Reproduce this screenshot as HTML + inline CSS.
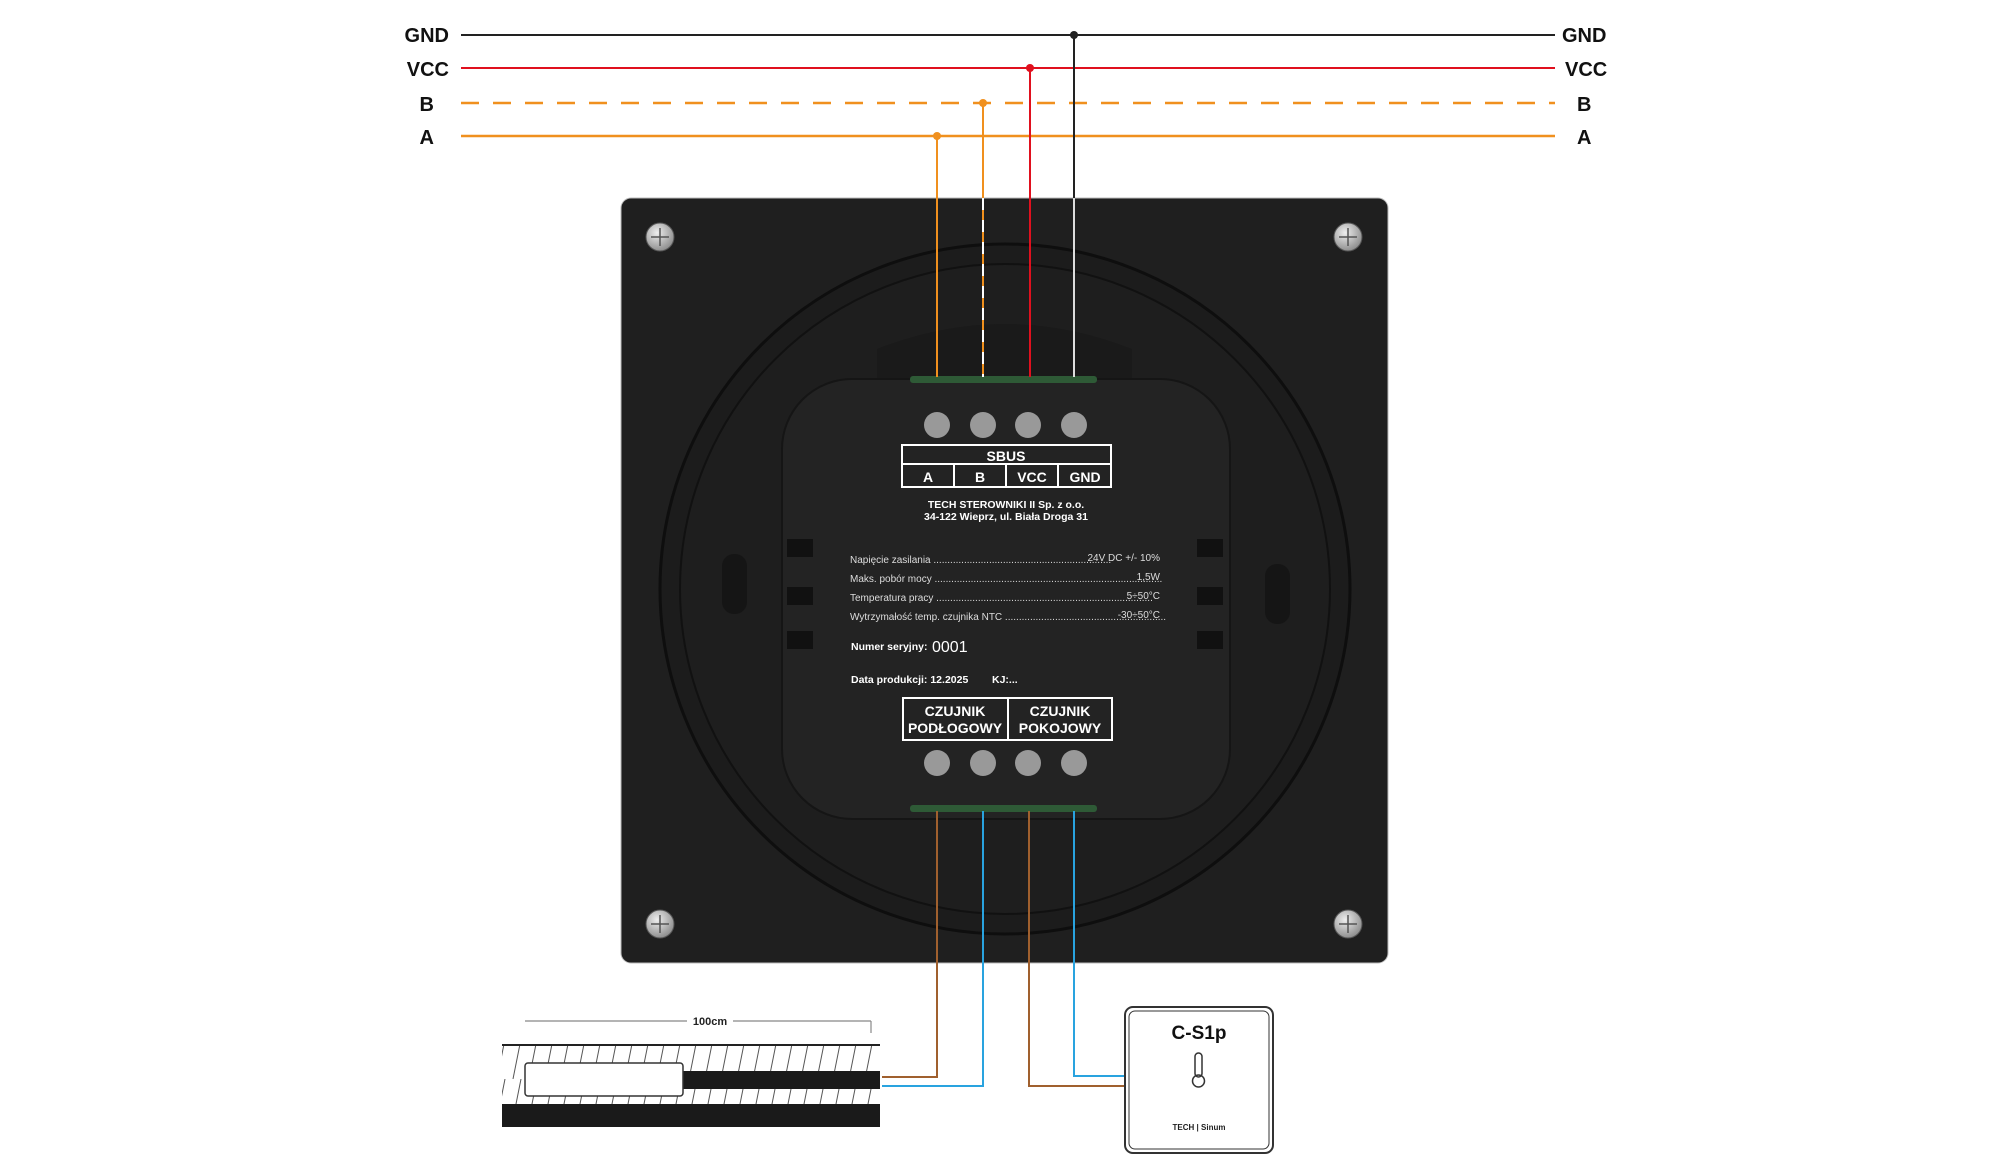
<!DOCTYPE html>
<html><head><meta charset="utf-8"><style>
html,body{margin:0;padding:0;background:#fff;}
svg{display:block;font-family:"Liberation Sans",sans-serif;}
</style></head><body>
<svg width="2000" height="1160" viewBox="0 0 2000 1160" xmlns="http://www.w3.org/2000/svg">
<defs>
<pattern id="hat" width="16" height="40" patternUnits="userSpaceOnUse">
<line x1="12" y1="0" x2="4" y2="40" stroke="#555" stroke-width="1"/>
</pattern>
<radialGradient id="scr" cx="40%" cy="35%" r="70%"><stop offset="0" stop-color="#eee"/><stop offset="1" stop-color="#888"/></radialGradient>
</defs>
<g transform="translate(-3,-1)">
<g font-weight="bold" font-size="20" fill="#111">
<text x="452" y="43" text-anchor="end">GND</text>
<text x="452" y="77" text-anchor="end">VCC</text>
<text x="437" y="112" text-anchor="end">B</text>
<text x="437" y="145" text-anchor="end">A</text>
<text x="1565" y="43">GND</text>
<text x="1568" y="77">VCC</text>
<text x="1580" y="112">B</text>
<text x="1580" y="145">A</text>
</g>
<line x1="464" y1="36" x2="1558" y2="36" stroke="#222" stroke-width="2"/>
<line x1="464" y1="69" x2="1558" y2="69" stroke="#e0101e" stroke-width="2"/>
<line x1="464" y1="104" x2="1558" y2="104" stroke="#f0901e" stroke-width="2.5" stroke-dasharray="18,14"/>
<line x1="464" y1="137" x2="1558" y2="137" stroke="#f0901e" stroke-width="2.5"/>
<rect x="624" y="199" width="767" height="765" rx="10" fill="#1f1f1f" stroke="#bbb" stroke-width="1"/>
<circle cx="1008" cy="590" r="345" fill="#1c1c1c" stroke="#0e0e0e" stroke-width="3"/>
<circle cx="1008" cy="590" r="325" fill="#1e1e1e" stroke="#111" stroke-width="2"/>
<rect x="725" y="555" width="25" height="60" rx="12" fill="#151515"/>
<rect x="1268" y="565" width="25" height="60" rx="12" fill="#151515"/>
<path d="M880 350 Q1008 300 1135 350 L1135 380 L880 380 Z" fill="#1a1a1a"/>
<rect x="785" y="380" width="448" height="440" rx="70" fill="#232323" stroke="#151515" stroke-width="2"/>
<rect x="913" y="377" width="187" height="7" rx="3" fill="#2e5a36"/>
<rect x="913" y="806" width="187" height="7" rx="3" fill="#2e5a36"/>
<g fill="#111"><rect x="790" y="540" width="26" height="18"/><rect x="790" y="588" width="26" height="18"/><rect x="790" y="632" width="26" height="18"/>
<rect x="1200" y="540" width="26" height="18"/><rect x="1200" y="588" width="26" height="18"/><rect x="1200" y="632" width="26" height="18"/></g>
<g fill="url(#scr)" stroke="#555"><circle cx="663" cy="238" r="14"/><circle cx="1351" cy="238" r="14"/><circle cx="663" cy="925" r="14"/><circle cx="1351" cy="925" r="14"/></g>
<g stroke="#555" stroke-width="1.5"><path d="M663 229v18M654 238h18"/><path d="M1351 229v18M1342 238h18"/><path d="M663 916v18M654 925h18"/><path d="M1351 916v18M1342 925h18"/></g>
<g fill="#999"><circle cx="940" cy="426" r="13"/><circle cx="986" cy="426" r="13"/><circle cx="1031" cy="426" r="13"/><circle cx="1077" cy="426" r="13"/>
<circle cx="940" cy="764" r="13"/><circle cx="986" cy="764" r="13"/><circle cx="1031" cy="764" r="13"/><circle cx="1077" cy="764" r="13"/></g>
<g stroke="#fff" stroke-width="2" fill="none"><rect x="905" y="446" width="209" height="42"/><line x1="905" y1="465" x2="1114" y2="465"/><line x1="957" y1="465" x2="957" y2="488"/><line x1="1009" y1="465" x2="1009" y2="488"/><line x1="1061" y1="465" x2="1061" y2="488"/></g>
<g fill="#fff" font-weight="bold" text-anchor="middle"><text x="1009" y="462" font-size="14">SBUS</text>
<text x="931" y="483" font-size="14">A</text><text x="983" y="483" font-size="14">B</text><text x="1035" y="483" font-size="14">VCC</text><text x="1088" y="483" font-size="14">GND</text>
<text x="1009" y="509" font-size="10.5">TECH STEROWNIKI II Sp. z o.o.</text><text x="1009" y="521" font-size="10.5">34-122 Wieprz, ul. Biała Droga 31</text></g>
<g fill="#ddd" font-size="10"><text x="853" y="564">Napięcie zasilania ................................................................</text><text x="1163" y="562" text-anchor="end">24V DC +/- 10%</text>
<text x="853" y="583">Maks. pobór mocy ..................................................................................</text><text x="1163" y="581" text-anchor="end">1,5W</text>
<text x="853" y="602">Temperatura pracy ..............................................................................</text><text x="1163" y="600" text-anchor="end">5÷50°C</text>
<text x="853" y="621">Wytrzymałość temp. czujnika NTC ..........................................................</text><text x="1163" y="619" text-anchor="end">-30÷50°C</text></g>
<g fill="#fff" font-weight="bold" font-size="10.5"><text x="854" y="651">Numer seryjny:</text><text x="854" y="684">Data produkcji: 12.2025</text><text x="995" y="684">KJ:...</text></g>
<text x="935" y="653" fill="#fff" font-size="16">0001</text>
<g stroke="#fff" stroke-width="2" fill="none"><rect x="906" y="699" width="209" height="42"/><line x1="1011" y1="699" x2="1011" y2="741"/></g>
<g fill="#fff" font-weight="bold" font-size="14" text-anchor="middle"><text x="958" y="717">CZUJNIK</text><text x="958" y="734">PODŁOGOWY</text><text x="1063" y="717">CZUJNIK</text><text x="1063" y="734">POKOJOWY</text></g>
<line x1="940" y1="137" x2="940" y2="378" stroke="#f0901e" stroke-width="2"/>
<line x1="986" y1="104" x2="986" y2="378" stroke="#f0901e" stroke-width="2"/>
<line x1="986" y1="199" x2="986" y2="378" stroke="#fff" stroke-width="2" stroke-dasharray="12,10"/>
<line x1="1033" y1="69" x2="1033" y2="378" stroke="#e0101e" stroke-width="2"/>
<line x1="1077" y1="36" x2="1077" y2="378" stroke="#222" stroke-width="2"/>
<line x1="1077" y1="199" x2="1077" y2="378" stroke="#ddd" stroke-width="2"/>
<circle cx="940" cy="137" r="4" fill="#f0901e"/><circle cx="986" cy="104" r="4" fill="#f0901e"/><circle cx="1033" cy="69" r="4" fill="#e0101e"/><circle cx="1077" cy="36" r="4" fill="#222"/>
<polyline points="940,812 940,1078 885,1078" fill="none" stroke="#a0602e" stroke-width="2"/>
<polyline points="986,812 986,1087 885,1087" fill="none" stroke="#29a3df" stroke-width="2"/>
<polyline points="1032,812 1032,1087 1128,1087" fill="none" stroke="#a0602e" stroke-width="2"/>
<polyline points="1077,812 1077,1077 1128,1077" fill="none" stroke="#29a3df" stroke-width="2"/>
<line x1="528" y1="1022" x2="874" y2="1022" stroke="#888" stroke-width="1.2"/>
<line x1="874" y1="1022" x2="874" y2="1034" stroke="#888" stroke-width="1.2"/>
<rect x="690" y="1012" width="46" height="16" fill="#fff"/>
<text x="713" y="1026" font-size="11" font-weight="bold" text-anchor="middle" fill="#222">100cm</text>
<rect x="505" y="1046" width="378" height="60" fill="url(#hat)"/>
<line x1="505" y1="1046" x2="883" y2="1046" stroke="#222" stroke-width="2"/>
<rect x="686" y="1072" width="197" height="18" fill="#1a1a1a"/>
<rect x="528" y="1064" width="158" height="33" rx="3" fill="#fff" stroke="#333" stroke-width="1.5"/>
<rect x="505" y="1105" width="378" height="23" fill="#1a1a1a"/>
<rect x="1128" y="1008" width="148" height="146" rx="8" fill="#fff" stroke="#333" stroke-width="2"/>
<rect x="1132" y="1012" width="140" height="138" rx="6" fill="none" stroke="#333" stroke-width="1"/>
<text x="1202" y="1040" font-size="19" font-weight="bold" text-anchor="middle" fill="#111">C-S1p</text>
<rect x="1198" y="1054" width="7" height="24" rx="3.5" fill="none" stroke="#333" stroke-width="1.5"/>
<circle cx="1201.5" cy="1082" r="6" fill="none" stroke="#333" stroke-width="1.5"/>
<text x="1202" y="1131" font-size="8" font-weight="bold" text-anchor="middle" fill="#222">TECH | Sinum</text>
</g>
</svg>
</body></html>
